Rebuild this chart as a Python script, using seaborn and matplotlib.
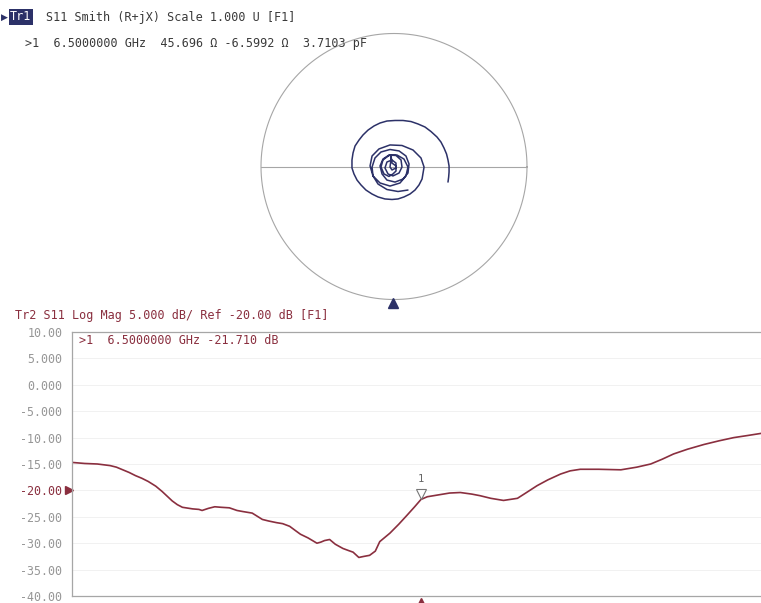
import matplotlib
matplotlib.use("Agg")
import matplotlib.pyplot as plt
import matplotlib.transforms as mtransforms
import numpy as np
import pandas as pd
import seaborn as sns

# ---- Trace 2: S11 log magnitude sweep ----
freq_ghz = [1.00, 1.10, 1.20, 1.40, 1.60, 1.70, 1.80, 1.90, 2.00, 2.10,
            2.20, 2.32, 2.42, 2.50, 2.58, 2.66, 2.74, 2.90, 3.00, 3.05,
            3.15, 3.25, 3.35, 3.48, 3.60, 3.69, 3.84, 3.92, 4.00, 4.10,
            4.22, 4.32, 4.43, 4.52, 4.60, 4.72, 4.86, 4.92, 4.98, 5.06,
            5.15, 5.27, 5.36, 5.43, 5.52, 5.60, 5.69, 5.78, 5.85, 5.93,
            6.01, 6.15, 6.28, 6.40, 6.50, 6.60, 6.75, 6.95, 7.12, 7.30,
            7.43, 7.60, 7.80, 8.02, 8.15, 8.33, 8.50, 8.70, 8.85, 9.01,
            9.30, 9.65, 9.90, 10.12, 10.30, 10.48, 10.70, 10.96, 11.20, 11.43,
            11.65, 11.86, 12.00]
s11_db = [-14.7, -14.8, -14.9, -15.0, -15.3, -15.6, -16.1, -16.6, -17.2, -17.7,
          -18.3, -19.2, -20.2, -21.1, -22.0, -22.7, -23.2, -23.5, -23.6, -23.8,
          -23.4, -23.1, -23.2, -23.3, -23.8, -24.0, -24.3, -24.9, -25.5, -25.8,
          -26.1, -26.3, -26.8, -27.6, -28.3, -29.0, -30.0, -29.8, -29.5, -29.3,
          -30.2, -31.0, -31.4, -31.7, -32.7, -32.5, -32.3, -31.5, -29.7, -28.9,
          -28.1, -26.4, -24.7, -23.1, -21.71, -21.2, -20.9, -20.5, -20.4, -20.7,
          -21.0, -21.5, -21.9, -21.5, -20.5, -19.1, -18.0, -16.9, -16.3, -16.0,
          -16.0, -16.1, -15.6, -15.0, -14.1, -13.1, -12.2, -11.3, -10.6, -10.0,
          -9.6, -9.2, -9.0]

# ---- Trace 1: S11 reflection coefficient on the Smith chart ----
gamma_re = [0.105, 0.030, -0.053, -0.120, -0.158, -0.165, -0.143, -0.098, -0.030, 0.038,
            0.090, 0.113, 0.105, 0.068, 0.008, -0.053, -0.090, -0.105, -0.083, -0.038,
            0.015, 0.053, 0.060, 0.038, -0.008, -0.045, -0.068, -0.053, -0.015, 0.015,
            0.015, -0.015, -0.030, -0.023, -0.023, -0.015, 0.015, 0.015, -0.008, -0.038,
            -0.075, -0.098, -0.083, -0.038, 0.023, 0.075, 0.105, 0.090, 0.045, -0.030,
            -0.105, -0.158, -0.180, -0.165, -0.113, -0.030, 0.060, 0.143, 0.203, 0.226,
            0.211, 0.188, 0.158, 0.120, 0.075, 0.030, -0.015, -0.068, -0.120, -0.165,
            -0.211, -0.248, -0.278, -0.301, -0.316, -0.316, -0.308, -0.293, -0.263, -0.233,
            -0.195, -0.150, -0.105, -0.053, 0.008, 0.068, 0.128, 0.180, 0.233, 0.278,
            0.323, 0.353, 0.376, 0.395, 0.406, 0.414, 0.414, 0.411, 0.406]
gamma_im = [-0.177, -0.188, -0.173, -0.132, -0.071, -0.004, 0.064, 0.109, 0.128, 0.117,
            0.079, 0.019, -0.049, -0.094, -0.117, -0.102, -0.056, 0.004, 0.056, 0.086,
            0.083, 0.049, -0.004, -0.049, -0.071, -0.056, -0.011, 0.034, 0.049, 0.026,
            -0.011, -0.026, -0.004, 0.049, 0.086, 0.026, 0.004, -0.034, -0.056, -0.075,
            -0.056, -0.004, 0.049, 0.083, 0.086, 0.056, -0.004, -0.071, -0.124, -0.147,
            -0.124, -0.071, 0.004, 0.079, 0.132, 0.162, 0.158, 0.124, 0.064, -0.004,
            -0.094, -0.139, -0.177, -0.207, -0.229, -0.244, -0.248, -0.244, -0.229, -0.207,
            -0.177, -0.139, -0.102, -0.056, -0.011, 0.049, 0.102, 0.154, 0.199, 0.237,
            0.274, 0.305, 0.327, 0.342, 0.346, 0.346, 0.338, 0.320, 0.297, 0.263,
            0.222, 0.184, 0.139, 0.094, 0.049, 0.004, -0.041, -0.079, -0.117]

ytick_values = [10, 5, 0, -5, -10, -15, -20, -25, -30, -35, -40]
ytick_labels = ["10.00", "5.000", "0.000", "-5.000", "-10.00", "-15.00",
                "-20.00", "-25.00", "-30.00", "-35.00", "-40.00"]

marker_freq = 6.5
marker_db = -21.710
marker_r = 45.696
marker_x = -6.5992
marker_c_pf = 3.7103
ref_level = -20.0
scale_db = 5.0

NAVY = "#2c3168"
MAROON = "#8a2f3f"
GRID = "#a6a6a6"
TICK = "#969696"

sns.set_style("white")
plt.rcParams["font.family"] = ["DejaVu Sans Mono", "DejaVu Sans"]

W, H = 761, 603
fig = plt.figure(figsize=(W / 100, H / 100), dpi=100)


def fx(px):
    return px / W


def fy(py):
    return 1 - py / H


# ---- Smith chart panel ----
cx, cy, rad = 394, 166.5, 133
half = 140
ax_s = fig.add_axes([fx(cx - half), fy(cy + half), 2 * half / W, 2 * half / H])
lim = half / rad
ax_s.axis("off")
theta = np.linspace(0, 2 * np.pi, 361)
ax_s.plot(np.cos(theta), np.sin(theta), color=GRID, lw=0.8)
ax_s.plot([-1, 1], [0, 0], color=GRID, lw=0.8)
smith_df = pd.DataFrame({"re": gamma_re, "im": gamma_im})
sns.lineplot(data=smith_df, x="re", y="im", ax=ax_s, sort=False, estimator=None,
             color=NAVY, lw=1.1)
ax_s.plot([-0.008], [-1.027], marker="^", ms=7, color=NAVY, clip_on=False)
ax_s.set_xlim(-lim, lim)
ax_s.set_ylim(-lim, lim)
ax_s.set_aspect("equal")
ax_s.set_xlabel("")
ax_s.set_ylabel("")

# ---- Log magnitude panel ----
top_px, bot_px, left_px, right_px = 332, 596, 72, 770
ax = fig.add_axes([fx(left_px), fy(bot_px), (right_px - left_px) / W, (bot_px - top_px) / H])
mag_df = pd.DataFrame({"freq": freq_ghz, "db": s11_db})
sns.lineplot(data=mag_df, x="freq", y="db", ax=ax, sort=False, estimator=None,
             color=MAROON, lw=1.2)
ax.set_xlim(1, 12)
ax.set_ylim(-40, 10)
ax.set_xlabel("")
ax.set_ylabel("")
ax.set_xticks([])
ax.set_yticks(ytick_values)
ax.set_yticklabels(ytick_labels)
ax.tick_params(axis="y", length=0, pad=7, labelsize=8.4, labelcolor=TICK)
for lab, val in zip(ax.get_yticklabels(), ytick_values):
    if val == ref_level:
        lab.set_color(MAROON)
for v in ytick_values[1:-1]:
    ax.axhline(v, color="#efefef", lw=0.6, zorder=0)
for side in ["left", "top", "bottom", "right"]:
    ax.spines[side].set_color(GRID)
    ax.spines[side].set_linewidth(0.9)

# reference level arrow
ax.plot([-0.004], [ref_level], marker=">", ms=6, color=MAROON, clip_on=False,
        transform=mtransforms.blended_transform_factory(ax.transAxes, ax.transData))
# stimulus position indicator below the grid
ax.plot([marker_freq], [-0.022], marker="^", ms=6, color=MAROON, clip_on=False,
        transform=mtransforms.blended_transform_factory(ax.transData, ax.transAxes))
# marker 1 on the trace
up = mtransforms.offset_copy(ax.transData, fig=fig, x=0, y=4.2, units="points")
ax.plot([marker_freq], [marker_db], marker="v", ms=7, mfc="white", mec="#777777",
        mew=0.8, transform=up, clip_on=False)
ax.annotate("1", (marker_freq, marker_db), xytext=(0, 11), textcoords="offset points",
            ha="center", va="bottom", fontsize=7.5, color="#666666")

# ---- Header texts ----
fs = 8.5
fig.text(fx(1), fy(17), "\u25B6", fontsize=6.5, color=NAVY, va="center", ha="left",
         family=["DejaVu Sans"])
fig.text(fx(10), fy(17), "Tr1", fontsize=fs, color="white", va="center", ha="left",
         bbox=dict(boxstyle="square,pad=0.12", fc=NAVY, ec="none"))
fig.text(fx(46), fy(17), "S11 Smith (R+jX) Scale 1.000 U [F1]", fontsize=fs,
         color="#3a3a3a", va="center", ha="left")
fig.text(fx(25), fy(43),
         f">1  {marker_freq:.7f} GHz  {marker_r:.3f} \u03A9 {marker_x:.4f} \u03A9  {marker_c_pf:.4f} pF",
         fontsize=fs, color="#3a3a3a", va="center", ha="left")
fig.text(fx(15), fy(315),
         f"Tr2 S11 Log Mag {scale_db:.3f} dB/ Ref {ref_level:.2f} dB [F1]",
         fontsize=fs, color=MAROON, va="center", ha="left")
fig.text(fx(79), fy(341), f">1  {marker_freq:.7f} GHz {marker_db:.3f} dB",
         fontsize=fs, color=MAROON, va="center", ha="left")

fig.savefig("out.png", dpi=100)
